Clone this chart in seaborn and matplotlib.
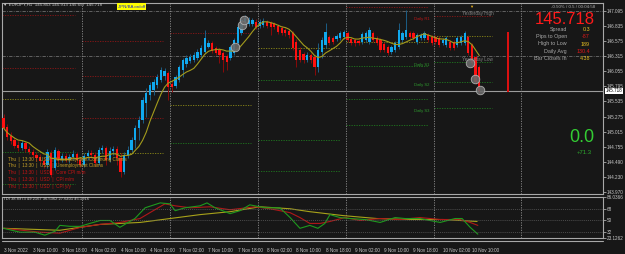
import numpy as np
import pandas as pd
import seaborn as sns
import matplotlib.pyplot as plt
from matplotlib.lines import Line2D
from matplotlib.transforms import blended_transform_factory

# EURJPY H1, bar 0 = 3 Nov 2022 02:00
opens = [145.25, 145.10, 144.94, 144.87, 144.79, 144.73, 144.82, 144.72, 144.66, 144.61,
         144.58, 144.51, 144.44, 144.65, 144.39, 144.68, 144.53, 144.60, 144.53, 144.58,
         144.63, 144.53, 144.44, 144.60, 144.65, 144.61, 144.47, 144.70, 144.73, 144.53,
         144.68, 144.72, 144.56, 144.32, 144.61, 144.70, 144.87, 145.08, 145.22, 145.51,
         145.65, 145.73, 145.82, 145.91, 145.97, 146.03, 145.84, 145.80, 145.91, 146.08,
         146.18, 146.23, 146.25, 146.29, 146.34, 146.39, 146.48, 146.54, 146.46, 146.42,
         146.37, 146.32, 146.29, 146.37, 146.54, 146.72, 146.85, 146.87, 146.87, 146.91,
         146.84, 146.85, 146.91, 146.89, 146.87, 146.84, 146.80, 146.77, 146.75, 146.72,
         146.56, 146.42, 146.35, 146.25, 146.34, 146.30, 146.13, 146.39, 146.51, 146.65,
         146.63, 146.61, 146.63, 146.65, 146.72, 146.61, 146.60, 146.58, 146.56, 146.60,
         146.56, 146.72, 146.63, 146.60, 146.53, 146.48, 146.39, 146.42, 146.48, 146.60,
         146.65, 146.72, 146.72, 146.56, 146.63, 146.63, 146.68, 146.65, 146.65, 146.63,
         146.54, 146.51, 146.56, 146.56, 146.51, 146.54, 146.54, 146.65, 146.51, 146.30,
         146.13]
highs = [145.32, 145.15, 145.01, 144.92, 144.85, 144.87, 144.85, 144.77, 144.72, 144.66,
         144.63, 144.56, 144.72, 144.70, 144.75, 144.72, 144.65, 144.65, 144.63, 144.70,
         144.66, 144.58, 144.65, 144.70, 144.70, 144.66, 144.75, 144.79, 144.77, 144.75,
         144.77, 144.77, 144.65, 144.66, 144.77, 144.92, 145.13, 145.28, 145.61, 145.77,
         145.87, 145.92, 146.01, 146.13, 146.11, 146.06, 145.91, 145.99, 146.16, 146.29,
         146.34, 146.35, 146.39, 146.44, 146.51, 146.77, 146.60, 146.58, 146.49, 146.46,
         146.41, 146.35, 146.51, 146.63, 146.85, 146.99, 147.03, 146.99, 146.97, 146.96,
         146.96, 146.97, 146.94, 146.92, 146.91, 146.87, 146.84, 146.80, 146.79, 146.75,
         146.61, 146.48, 146.39, 146.39, 146.37, 146.34, 146.54, 146.65, 146.89, 146.68,
         146.66, 146.70, 146.75, 146.77, 146.75, 146.65, 146.63, 146.61, 146.73, 146.75,
         146.82, 146.75, 146.66, 146.63, 146.56, 146.51, 146.51, 146.58, 146.89, 146.75,
         147.11, 146.75, 146.75, 146.72, 146.72, 146.75, 146.72, 146.68, 146.68, 146.66,
         146.63, 146.66, 146.60, 146.60, 146.66, 146.68, 146.75, 146.68, 146.54, 146.34,
         146.16]
lows = [145.04, 144.87, 144.80, 144.73, 144.68, 144.70, 144.66, 144.63, 144.58, 144.51,
        144.47, 144.39, 144.39, 144.23, 144.35, 144.47, 144.49, 144.49, 144.47, 144.53,
        144.47, 144.41, 144.41, 144.53, 144.56, 144.42, 144.44, 144.65, 144.44, 144.49,
        144.61, 144.44, 144.23, 144.29, 144.56, 144.66, 144.73, 144.87, 145.16, 145.26,
        145.56, 145.65, 145.77, 145.87, 145.91, 145.56, 145.70, 145.77, 145.87, 145.96,
        146.13, 146.20, 146.22, 146.25, 146.30, 146.37, 146.46, 146.37, 146.34, 146.20,
        146.04, 146.08, 146.25, 146.34, 146.51, 146.68, 146.82, 146.84, 146.84, 146.79,
        146.80, 146.82, 146.80, 146.68, 146.79, 146.70, 146.68, 146.66, 146.63, 146.42,
        146.13, 146.22, 146.20, 146.22, 146.20, 145.99, 146.04, 146.29, 146.46, 146.51,
        146.53, 146.58, 146.60, 146.61, 146.56, 146.51, 146.49, 146.51, 146.53, 146.56,
        146.53, 146.56, 146.51, 146.39, 146.39, 146.34, 146.35, 146.39, 146.44, 146.56,
        146.61, 146.61, 146.60, 146.53, 146.60, 146.60, 146.56, 146.51, 146.53, 146.48,
        146.51, 146.48, 146.42, 146.42, 146.48, 146.51, 146.51, 146.34, 146.15, 145.84,
        145.68]
closes = [145.08, 144.92, 144.85, 144.77, 144.73, 144.82, 144.72, 144.66, 144.61, 144.56,
          144.51, 144.44, 144.66, 144.27, 144.70, 144.53, 144.60, 144.53, 144.58, 144.63,
          144.53, 144.44, 144.60, 144.65, 144.61, 144.47, 144.70, 144.73, 144.53, 144.68,
          144.72, 144.56, 144.32, 144.61, 144.70, 144.87, 145.08, 145.22, 145.56, 145.68,
          145.82, 145.87, 145.96, 146.08, 146.06, 145.79, 145.79, 145.96, 146.13, 146.25,
          146.29, 146.30, 146.34, 146.39, 146.46, 146.63, 146.54, 146.41, 146.37, 146.34,
          146.25, 146.22, 146.48, 146.60, 146.82, 146.94, 146.97, 146.94, 146.94, 146.82,
          146.91, 146.92, 146.84, 146.82, 146.82, 146.73, 146.72, 146.72, 146.68, 146.46,
          146.25, 146.25, 146.25, 146.34, 146.25, 146.13, 146.42, 146.60, 146.73, 146.54,
          146.56, 146.66, 146.72, 146.73, 146.60, 146.54, 146.54, 146.54, 146.70, 146.72,
          146.77, 146.60, 146.54, 146.42, 146.42, 146.37, 146.48, 146.54, 146.77, 146.72,
          146.77, 146.65, 146.63, 146.68, 146.68, 146.72, 146.60, 146.54, 146.56, 146.51,
          146.60, 146.63, 146.46, 146.46, 146.63, 146.65, 146.72, 146.37, 146.20, 145.87,
          145.718]

last_price = 145.718
yesterday_high = 147.10
yesterday_low = 146.32

# daily pivot levels, one entry per day (3, 4, 7, 8, 9, 10 Nov)
day_start = [-0.4, 21.5, 45.5, 69.5, 93.5, 117.5]
day_end = [19.5, 43.6, 67.6, 91.9, 116.0, 133.5]
pivot_r = [[147.03, 146.11], [146.58, 145.97, 145.25], [146.72], [], [147.16], [147.01]]
pivot_p = [145.58, 144.65, 145.47, 146.46, 146.56, 146.66]
pivot_s = [[144.66, 144.11], [], [144.82], [145.91, 144.87, 144.34],
           [146.15, 145.58, 145.13], [146.22, 145.87, 145.43]]
separators = [21.5, 45.5, 69.5, 93.5, 117.5, 141.5]

signal_bars = [63.2, 65.2, 65.7, 127.5, 128.8, 130.2]
signal_prices = [146.475, 146.85, 146.94, 146.20, 145.92, 145.73]

day_bar_slot = 137.8
day_bar_top = 146.73
day_bar_bottom = 145.70

price_ticks = [147.095, 146.835, 146.575, 146.315, 146.055, 145.795, 145.535,
               145.275, 145.015, 144.755, 144.490, 144.230, 143.970]

x_label_bars = list(range(0, 129, 8))
x_labels = ["3 Nov 2022", "3 Nov 10:00", "3 Nov 18:00", "4 Nov 02:00", "4 Nov 10:00",
            "4 Nov 18:00", "7 Nov 02:00", "7 Nov 10:00", "7 Nov 18:00", "8 Nov 02:00",
            "8 Nov 10:00", "8 Nov 18:00", "9 Nov 02:00", "9 Nov 10:00", "9 Nov 18:00",
            "10 Nov 02:00", "10 Nov 10:00"]

# TDI panel
green_bars = [0, 4.5, 8.6, 11.3, 14.1, 15.4, 18.2, 20.9, 23.6, 26.4, 29.1, 31.8, 35.9, 38.7,
              42.8, 45.5, 46.9, 49.6, 53.7, 55.6, 57.8, 61.9, 64.6, 67.3, 71.4, 75.5, 78.3,
              81.0, 83.7, 85.9, 87.8, 89.2, 91.9, 94.7, 98.8, 102.9, 107.0, 109.7, 113.8,
              116.5, 119.3, 123.4, 125.3, 127.5, 129.6]
green_vals = [38, 32, 32, 27.5, 33.5, 42.5, 41, 41, 45.5, 50, 50, 39.5, 53, 69.5,
              77, 75.5, 65, 69.5, 72.5, 77, 69.5, 60.5, 65, 74, 69.5, 69.5, 54.5,
              38, 42.5, 38, 45.5, 59, 54.5, 53, 51.5, 47, 54.5, 53, 53,
              50, 47, 53, 53, 39.5, 29]
red_bars = [0, 10, 15.4, 21, 26.4, 31.8, 37.3, 40, 44.1, 46.9, 51, 56.4, 61.9, 68.7, 72.8,
            78.3, 81, 83.7, 86.5, 89.2, 93.3, 97.4, 102.9, 108.3, 113.8, 119.3, 124.7,
            127.5, 129.6]
red_vals = [38, 32, 30.5, 39.5, 44, 47, 53, 62, 75.5, 72.5, 69.5, 71, 66.5, 71, 68,
            62, 54.5, 45.5, 45.5, 48.5, 54.5, 50, 53, 51.5, 54.5, 51.5, 51.5,
            47, 42.5]
yellow_bars = [0, 15.4, 26.4, 37.3, 45.5, 53.7, 61.9, 70.1, 78.3, 83.7, 92.8, 102, 111.1,
               120.1, 129.4]
yellow_vals = [38, 35, 44, 47, 53, 59, 63.5, 71, 68, 63.5, 57.5, 53, 51.5, 51.5, 48.5]
tdi_ticks = [86.0366, 68, 50, 32, 23.1262]
tdi_tick_labels = ["86.0366", "68", "50", "32", "23.1262"]

calendar_rows = ["Thu  |  13:30  |  USD  |  Unemployment Continuing Claims",
                 "Thu  |  13:30  |  USD  |  Unemployment Claims",
                 "Thu  |  13:30  |  USD  |  Core CPI m/m",
                 "Thu  |  13:30  |  USD  |  CPI m/m",
                 "Thu  |  13:30  |  USD  |  CPI y/y"]
calendar_colors = ["#C9A227", "#C9A227", "#C41414", "#C41414", "#C41414"]

info_names = ["Spread", "Pips to Open", "High to Low", "Daily Avg", "Bar Closes In"]
info_values = ["0.3", "-87", "189", "130.4", "4:38"]
info_colors = ["#E8C020", "#E01818", "#E8C020", "#E01818", "#E8C020"]

BG = "#171717"
UP, UP_WICK = "#10A8EE", "#1C5E86"
DN, DN_WICK = "#FF1010", "#8A0A0A"
W, H = 625, 254


def fpos(x, y):
    return x / W, 1 - y / H


def main():
    sns.set_theme(style="dark", rc={"axes.facecolor": BG, "figure.facecolor": BG})
    plt.rcParams["font.family"] = ["Liberation Sans", "DejaVu Sans"]

    fig = plt.figure(figsize=(6.25, 2.54), dpi=100)
    x0, x1 = 2 / W, 603 / W
    ax = fig.add_axes([x0, 1 - 194 / H, x1 - x0, 191 / H])
    ax2 = fig.add_axes([x0, 1 - 238 / H, x1 - x0, 41 / H])

    bars = np.arange(len(closes))
    o, h, l, c = map(np.array, (opens, highs, lows, closes))
    up = c >= o

    # pivots and reference lines first so candles draw on top
    for k in range(len(day_start)):
        xs = [day_start[k], day_end[k]]
        for lvl in pivot_r[k]:
            ax.plot(xs, [lvl, lvl], color="#8E1616", lw=0.6, ls=(0, (1.5, 1.5)))
        ax.plot(xs, [pivot_p[k]] * 2, color="#8E8A18", lw=0.6, ls=(0, (1.5, 1.5)))
        for lvl in pivot_s[k]:
            ax.plot(xs, [lvl, lvl], color="#1F7A1F", lw=0.6, ls=(0, (1.5, 1.5)))
    for lvl in (yesterday_high, yesterday_low):
        ax.axhline(lvl, color="#6E6E6E", lw=0.6, ls=(0, (4, 1.5, 1, 1.5)))
    ax.axhline(last_price, color="#9C9C9C", lw=0.8)
    for s in separators:
        ax.axvline(s, color="#8C8C8C", lw=0.6, ls=(0, (1.5, 1.5)))
        ax2.axvline(s, color="#8C8C8C", lw=0.6, ls=(0, (1.5, 1.5)))

    # candles
    ax.vlines(bars[up], l[up], h[up], color=UP_WICK, lw=0.7, zorder=3)
    ax.vlines(bars[~up], l[~up], h[~up], color=DN_WICK, lw=0.7, zorder=3)
    ax.bar(bars[up], (c - o)[up], bottom=o[up], width=0.62, color=UP, lw=0, zorder=4)
    ax.bar(bars[~up], (c - o)[~up], bottom=o[~up], width=0.62, color=DN, lw=0, zorder=4)

    ma = pd.Series(closes).rolling(8, min_periods=1).mean()
    sns.lineplot(x=bars, y=ma.values, ax=ax, color="#A39B1C", lw=0.8, zorder=5)

    sns.scatterplot(x=signal_bars, y=signal_prices, ax=ax, s=38, color="#6A6A6A",
                    edgecolor="#B8B8B8", linewidth=0.6, alpha=0.9, zorder=6)

    ax.vlines(day_bar_slot, day_bar_bottom, day_bar_top, color="#E01010", lw=1.4)

    ax.set_xlim(-0.41, 163.8)
    ax.set_ylim(143.94, 147.233)
    ax.set_xticks([])
    ax.yaxis.tick_right()
    ax.set_yticks(price_ticks)
    ax.set_yticklabels([f"{p:.3f}" for p in price_ticks])
    ax.tick_params(axis="y", labelsize=3.3, colors="#C8C8C8", length=2, width=0.5, pad=1)
    ax.set_xlabel("")
    ax.set_ylabel("")
    tr = blended_transform_factory(ax.transAxes, ax.transData)
    ax.text(1.004, last_price, f"{last_price:.3f}", transform=tr, fontsize=3.3, color="black",
            va="center", ha="left",
            bbox=dict(boxstyle="square,pad=0.12", fc="white", ec="none"))

    # TDI
    sns.lineplot(x=yellow_bars, y=yellow_vals, ax=ax2, color="#A8A21A", lw=0.8)
    sns.lineplot(x=red_bars, y=red_vals, ax=ax2, color="#B01818", lw=0.8)
    sns.lineplot(x=green_bars, y=green_vals, ax=ax2, color="#1E9A1E", lw=0.8)
    for lvl in (68, 50, 32):
        ax2.axhline(lvl, color="#5E5E5E", lw=0.5, ls=(0, (1.5, 1.5)))
    ax2.set_xlim(-0.41, 163.8)
    ax2.set_ylim(23.1262, 86.0366)
    ax2.yaxis.tick_right()
    ax2.set_yticks(tdi_ticks)
    ax2.set_yticklabels(tdi_tick_labels)
    ax2.tick_params(axis="y", labelsize=3.3, colors="#C8C8C8", length=2, width=0.5, pad=1)
    ax2.set_xticks(x_label_bars)
    ax2.set_xticklabels(x_labels, ha="left")
    ax2.tick_params(axis="x", labelsize=3.3, colors="#C8C8C8", length=2, width=0.5, pad=5)
    ax2.set_xlabel("")
    ax2.set_ylabel("")

    for a in (ax, ax2):
        for sp in a.spines.values():
            sp.set_color("#A8A8A8")
            sp.set_linewidth(0.8)

    fig.add_artist(Line2D([x0, x1], [1 - 240.5 / H] * 2, color="#A8A8A8", lw=0.8))

    # texts
    def put(x, y, s, **kw):
        fx, fy = fpos(x, y)
        fig.text(fx, fy, s, va="center", **kw)

    put(3, 5, "\u25bc EURJPY,H1  145.853 145.913 145.657 145.718", color="#C8C8C8", fontsize=3.2)
    put(118, 6.5, "JPN/BA on/off", color="#2030C0", fontsize=3.2,
        bbox=dict(boxstyle="square,pad=0.25", fc="#FFFF00", ec="none"))
    put(3, 199, "TDI 38.8973 49.2167 36.5362 27.6401 45.1916", color="#C8C8C8", fontsize=3)

    put(469, 7, "\u25bc", color="#E8B020", fontsize=3)
    put(595, 7, "-0.50% / 0.5 / 00:04:58", color="#B0B0B0", fontsize=3.2, ha="right")
    put(595, 20, f"{last_price:.3f}", color="#FF1A1A", fontsize=12, ha="right")
    for i, (nm, val, col) in enumerate(zip(info_names, info_values, info_colors)):
        yy = 29.3 + i * 7.35
        put(567, yy, nm, color="#A8A8A8", fontsize=3.9, ha="right")
        put(590, yy, val, color=col, fontsize=3.9, ha="right")
    put(594, 138, "0.0", color="#33CC33", fontsize=13, ha="right")
    put(592, 152, "+71.3", color="#2EAA2E", fontsize=4.3, ha="right")

    put(414, 19, "Daily R1", color="#C01818", fontsize=3)
    put(414, 65, "Daily S1", color="#2E9A2E", fontsize=3)
    put(414, 85, "Daily S2", color="#2E9A2E", fontsize=3)
    put(414, 111, "Daily S3", color="#2E9A2E", fontsize=3)
    put(462, 14, "Yesterday High", color="#808080", fontsize=3.3)
    put(462, 60, "Yesterday Low", color="#808080", fontsize=3.3)

    for i, (row, col) in enumerate(zip(calendar_rows, calendar_colors)):
        put(8, 159 + i * 6.8, row, color=col, fontsize=3.3)

    fig.savefig("out.png", dpi=100, facecolor=BG)


if __name__ == "__main__":
    main()
